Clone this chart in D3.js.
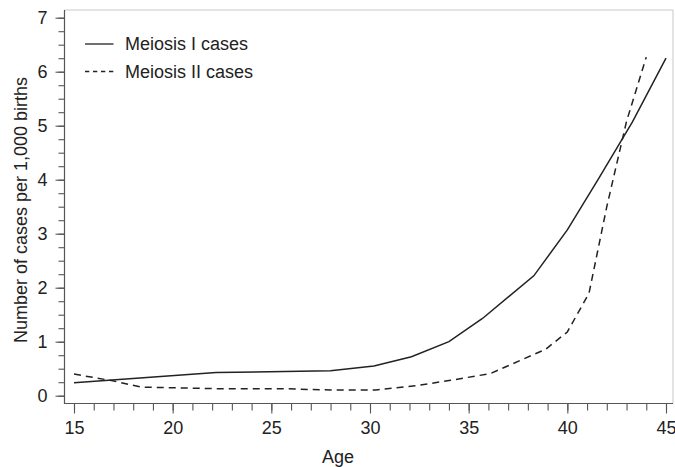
<!DOCTYPE html>
<html>
<head>
<meta charset="utf-8">
<script src="https://cdn.jsdelivr.net/npm/d3@7"></script>
<style>
  body { margin: 0; background: #ffffff; }
  text { font-family: "Liberation Sans", Arial, sans-serif; fill: #222; }
</style>
</head>
<body>
<div id="chart"></div>
<script>
const w = 675;
const h = 467;

// data
const meiosis1Ages = [15, 22.2, 28, 30.2, 32.1, 34, 35.7, 38.3, 40, 41.6, 43.3, 45];
const meiosis1Rates = [0.24, 0.43, 0.46, 0.55, 0.72, 1.0, 1.43, 2.22, 3.07, 4.03, 5.07, 6.25];
const meiosis2Ages = [15, 16.9, 18.4, 22.2, 25.6, 28, 30.3, 32.4, 34, 36.1, 38.9, 40, 41.1, 42, 43, 44];
const meiosis2Rates = [0.40, 0.28, 0.16, 0.13, 0.13, 0.105, 0.105, 0.19, 0.28, 0.41, 0.86, 1.18, 1.9, 3.5, 5.08, 6.27];
const xTicks = [15, 20, 25, 30, 35, 40, 45];
const yTicks = [0, 1, 2, 3, 4, 5, 6, 7];
const seriesNames = ["Meiosis I cases", "Meiosis II cases"];

let svg = d3.select("div#chart").append("svg")
    .attr("width", w).attr("height", h)
    .style("background-color", "#ffffff");

const plotLeft = 64.5, plotRight = 673, plotTop = 10, plotBottom = 403.5;

let x = d3.scaleLinear().domain([15, 45]).range([74, 666]);
let y = d3.scaleLinear().domain([0, 7]).range([395.7, 17.7]);

// frame
svg.append("path")
    .attr("d", `M${plotLeft},${plotTop}H${plotRight}V${plotBottom}`)
    .attr("fill", "none").attr("stroke", "#c8c8c8").attr("stroke-width", 1);
svg.append("path")
    .attr("d", `M${plotLeft},${plotTop}V${plotBottom}H${plotRight}`)
    .attr("fill", "none").attr("stroke", "#555").attr("stroke-width", 1.2);

// x axis: minor ticks every year, majors every 5
let xMinor = svg.append("g").attr("transform", `translate(0,${plotBottom})`)
    .call(d3.axisBottom(x).tickValues(d3.range(15, 46, 1)).tickSize(7).tickFormat(""));
let xMajor = svg.append("g").attr("transform", `translate(0,${plotBottom})`)
    .call(d3.axisBottom(x).tickValues(xTicks).tickSize(10).tickPadding(8).tickFormat(d3.format("d")));

let yMinor = svg.append("g").attr("transform", `translate(${plotLeft},0)`)
    .call(d3.axisLeft(y).tickValues(d3.range(0, 7.01, 0.25)).tickSize(6).tickFormat(""));
let yMajor = svg.append("g").attr("transform", `translate(${plotLeft},0)`)
    .call(d3.axisLeft(y).tickValues(yTicks).tickSize(9).tickPadding(8).tickFormat(d3.format("d")));

[xMinor, xMajor, yMinor, yMajor].forEach(g => {
    g.select(".domain").remove();
    g.selectAll(".tick line").attr("stroke", "#555").attr("stroke-width", 1.1);
    g.selectAll(".tick text").style("font-size", "18px").attr("fill", "#222");
});

// axis titles
svg.append("text").attr("x", 338).attr("y", 463)
    .attr("text-anchor", "middle").style("font-size", "18px").text("Age");
svg.append("text")
    .attr("transform", "translate(26.5,210) rotate(-90)")
    .attr("text-anchor", "middle").style("font-size", "18px")
    .text("Number of cases per 1,000 births");

// lines
let line = d3.line().x(d => x(d[0])).y(d => y(d[1]));

svg.append("path")
    .datum(d3.zip(meiosis1Ages, meiosis1Rates))
    .attr("d", line)
    .attr("fill", "none").attr("stroke", "#222").attr("stroke-width", 1.5);

svg.append("path")
    .datum(d3.zip(meiosis2Ages, meiosis2Rates))
    .attr("d", line)
    .attr("fill", "none").attr("stroke", "#222").attr("stroke-width", 1.5)
    .attr("stroke-dasharray", "7,5");

// legend
const legendRows = [44, 71.5];
seriesNames.forEach((name, i) => {
    svg.append("line")
        .attr("x1", 85).attr("x2", 113.5)
        .attr("y1", legendRows[i]).attr("y2", legendRows[i])
        .attr("stroke", "#222").attr("stroke-width", 1.3)
        .attr("stroke-dasharray", i === 1 ? "4.3,3.7" : null);
    svg.append("text")
        .attr("x", 125).attr("y", legendRows[i])
        .attr("dy", "0.35em")
        .style("font-size", "18px")
        .text(name);
});
</script>
</body>
</html>
